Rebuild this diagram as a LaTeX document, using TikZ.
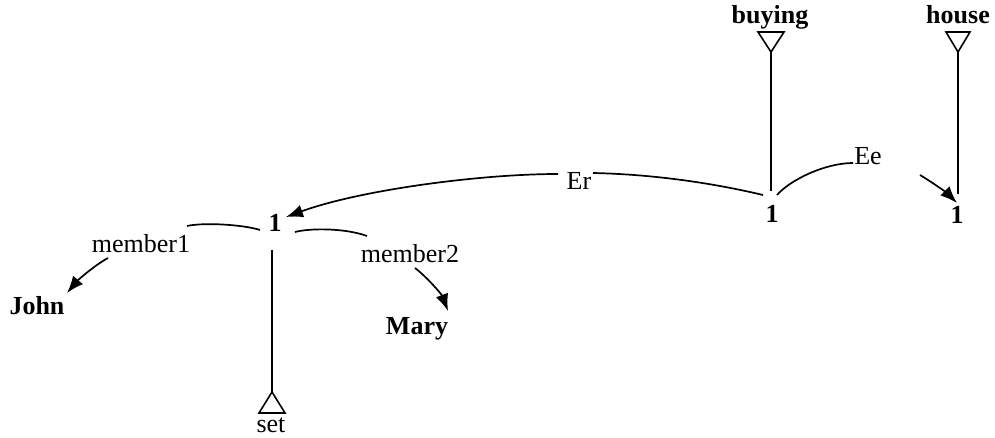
\documentclass[tikz,border=0pt]{standalone}
\usepackage{fontspec}
\setmainfont{Liberation Serif}
\usetikzlibrary{arrows.meta}
\begin{document}
\begin{tikzpicture}[x=1pt,y=-1pt,
  lbl/.style={inner sep=0pt,anchor=base,font=\fontsize{26}{30}\selectfont},
  bold/.style={lbl,font=\fontsize{26}{30}\selectfont\bfseries},
  conn/.style={line width=1.7pt},
  arr/.style={conn,-{Latex[length=17pt,width=13pt]}},
  tri/.style={line width=1.6pt,line join=miter}]
\useasboundingbox (0,0) rectangle (995,438);
% text nodes
\node[bold] (buying) at (770,24) {buying};
\node[bold] (house) at (958,24) {house};
\node[bold] (n1) at (772,223) {1};
\node[bold] (n2) at (957,224) {1};
\node[bold] (n3) at (275,232) {1};
\node[lbl] (er) at (579,190) {Er};
\node[lbl] (ee) at (868,165) {Ee};
\node[lbl] (member1) at (141,252) {member1};
\node[lbl] (member2) at (410,262) {member2};
\node[bold] (john) at (37,314) {John};
\node[bold] (mary) at (417,334) {Mary};
\node[lbl] (set) at (271,432) {set};
% triangle tips
\coordinate (tbuy) at (771,52);
\coordinate (thouse) at (958,52);
\coordinate (tset) at (272,392);
\draw[tri] (tbuy) -- ++(-13,-20) -- ++(26,0) -- cycle;
\draw[tri] (thouse) -- ++(-12,-20) -- ++(24,0) -- cycle;
\draw[tri] (tset) -- ++(-13,21) -- ++(26,0) -- cycle;
% vertical lines
\draw[conn] (tbuy) -- ([shift={(-1,-32)}]n1.base);
\draw[conn] (thouse) -- ([shift={(1,-30)}]n2.base);
\draw[conn] ([shift={(-3,18)}]n3.base) -- (tset);
% Er
\draw[conn] ([shift={(-9,-28)}]n1.base) .. controls (700,180) and (640,174) .. ([shift={(14,-17)}]er.base);
\draw[arr] ([shift={(-21,-16)}]er.base) .. controls (480,174) and (360,190) .. ([shift={(11,-15)}]n3.base);
% Ee
\draw[conn] ([shift={(5,-28)}]n1.base) .. controls (790,180) and (825,163) .. ([shift={(-15,-2)}]ee.base);
\draw[arr] ([shift={(52,10)}]ee.base) .. controls (935,184) and (948,194) .. ([shift={(0,-21)}]n2.base);
% member1
\draw[conn] ([shift={(-15,-2)}]n3.base) .. controls (245,225) and (205,222) .. ([shift={(46,-26)}]member1.base);
\draw[arr] ([shift={(-33,6)}]member1.base) .. controls (95,265) and (78,280) .. ([shift={(30,-21)}]john.base);
% member2
\draw[conn] ([shift={(20,0)}]n3.base) .. controls (310,228) and (345,228) .. ([shift={(-43,-26)}]member2.base);
\draw[arr] ([shift={(5,6)}]member2.base) .. controls (428,278) and (442,295) .. ([shift={(31,-23)}]mary.base);
\end{tikzpicture}
\end{document}
